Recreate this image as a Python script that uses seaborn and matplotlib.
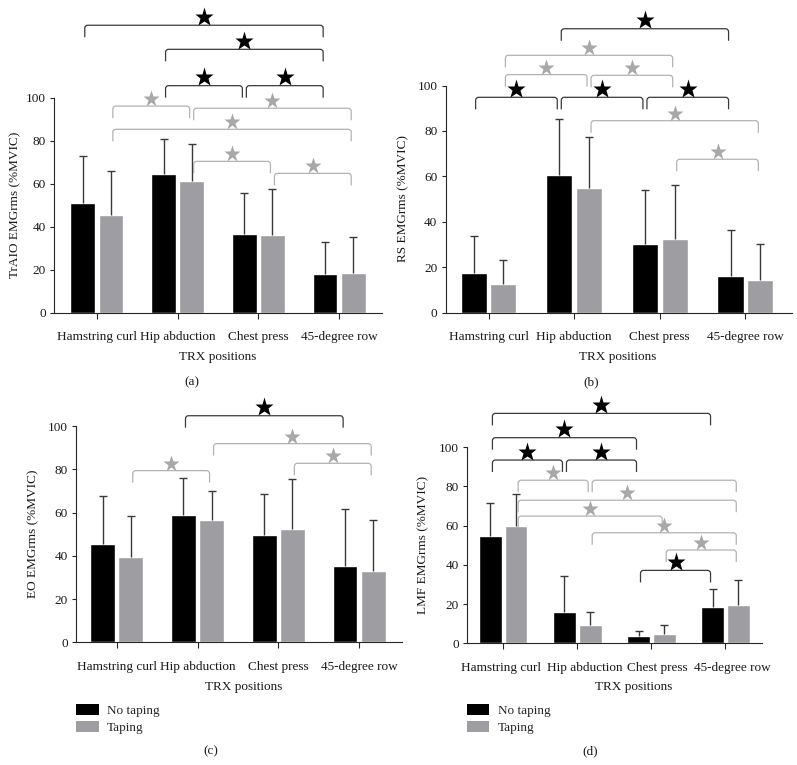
import numpy as np
import pandas as pd
import seaborn as sns
import matplotlib.pyplot as plt
import matplotlib.transforms as mtransforms
from matplotlib.path import Path
from matplotlib.patches import PathPatch, Patch

# ---- data -------------------------------------------------------------
positions = ["Hamstring curl", "Hip abduction", "Chest press", "45-degree row"]
conditions = ["No taping", "Taping"]

# (a) TrAIO
a_no_mean = [51.2, 64.7, 36.7, 17.8]
a_no_sd = [21.8, 16.1, 19.0, 15.1]
a_tap_mean = [45.3, 61.1, 36.0, 18.4]
a_tap_sd = [20.7, 17.5, 21.4, 16.8]

# (b) RS
b_no_mean = [17.6, 60.6, 30.0, 16.2]
b_no_sd = [15.9, 24.5, 23.8, 20.0]
b_tap_mean = [12.5, 55.0, 32.4, 14.1]
b_tap_sd = [10.7, 22.2, 23.9, 15.9]

# (c) EO
c_no_mean = [45.5, 58.7, 49.6, 35.3]
c_no_sd = [22.1, 17.4, 19.0, 26.5]
c_tap_mean = [39.6, 56.7, 52.5, 33.0]
c_tap_sd = [18.6, 13.4, 23.2, 23.5]

# (d) LMF
d_no_mean = [54.8, 15.8, 3.7, 18.7]
d_no_sd = [16.6, 18.4, 2.8, 8.9]
d_tap_mean = [60.0, 9.2, 4.6, 19.4]
d_tap_sd = [16.0, 6.6, 4.6, 12.7]

# significance brackets: (left position, right position, condition, height, star)
a_brackets = [(0, 3, 0, 133.7, True), (1, 3, 0, 122.5, True),
              (1, 2, 0, 105.6, True), (2, 3, 0, 105.6, True),
              (0, 1, 1, 96.1, True), (1, 3, 1, 95.1, True),
              (0, 3, 1, 85.3, True), (1, 2, 1, 70.4, True),
              (2, 3, 1, 64.8, True)]
b_brackets = [(1, 3, 0, 125.0, True), (0, 2, 1, 113.3, True),
              (0, 1, 1, 104.8, True), (1, 2, 1, 104.5, True),
              (0, 1, 0, 94.8, True), (1, 2, 0, 94.8, True),
              (2, 3, 0, 94.8, True), (1, 3, 1, 84.5, True),
              (2, 3, 1, 67.5, True)]
c_brackets = [(1, 3, 0, 104.8, True), (1, 3, 1, 91.9, True),
              (2, 3, 1, 82.8, True), (0, 1, 1, 79.4, True)]
d_brackets = [(0, 3, 0, 117.3, True), (0, 2, 0, 104.9, True),
              (0, 1, 0, 93.5, True), (1, 2, 0, 93.5, True),
              (0, 1, 1, 83.2, True), (1, 3, 1, 83.2, False),
              (0, 3, 1, 73.0, True), (0, 2, 1, 64.9, True),
              (1, 3, 1, 56.4, True), (2, 3, 1, 47.6, True),
              (2, 3, 0, 37.2, True)]

# ---- style ------------------------------------------------------------
BLACK = "#000000"
GRAY = "#9e9ea2"
AXIS = "#262626"
ERR = "#3a3a3a"
BR_DARK = "#3a3a3a"
BR_LIGHT = "#b3b3b3"
STAR_LIGHT = "#a8a8a8"
TXT = "#1a1a1a"
FS = 9.5

sns.set_theme(style="ticks")
plt.rcParams["font.family"] = ["Liberation Serif", "DejaVu Serif"]

W, H = 797, 765
fig = plt.figure(figsize=(W / 100, H / 100), dpi=100)

panels = [
    dict(means=(a_no_mean, a_tap_mean), sds=(a_no_sd, a_tap_sd), brackets=a_brackets,
         ylabel="TrAIO EMGrms (%MVIC)", cap="(a)",
         left=54, right=382, y0=312.7, ppu=2.15, top=1, xlim=(-0.53, 3.53),
         ylab_x=15, xlab=(218, 357), cap_xy=(191.5, 382.7)),
    dict(means=(b_no_mean, b_tap_mean), sds=(b_no_sd, b_tap_sd), brackets=b_brackets,
         ylabel="RS EMGrms (%MVIC)", cap="(b)",
         left=445.7, right=791.7, y0=312.5, ppu=2.27, top=1, xlim=(-0.50, 3.54),
         ylab_x=403, xlab=(618, 357), cap_xy=(591, 382.7)),
    dict(means=(c_no_mean, c_tap_mean), sds=(c_no_sd, c_tap_sd), brackets=c_brackets,
         ylabel="EO EMGrms (%MVIC)", cap="(c)",
         left=76.3, right=402, y0=642.3, ppu=2.162, top=395, xlim=(-0.50, 3.53),
         ylab_x=33, xlab=(244, 686.7), cap_xy=(211, 751.7), legend=True),
    dict(means=(d_no_mean, d_tap_mean), sds=(d_no_sd, d_tap_sd), brackets=d_brackets,
         ylabel="LMF EMGrms (%MVIC)", cap="(d)",
         left=467, right=761.7, y0=643.3, ppu=1.96, top=395, xlim=(-0.49, 3.49),
         ylab_x=423, xlab=(634, 686.7), cap_xy=(590, 751.3), legend=True,
         label_shift=(-2, 7, 6, 7)),
]


def bracket_path(x1, x2, y, leg, rx, ry):
    verts = [(x1, y - leg), (x1, y - ry), (x1, y), (x1 + rx, y),
             (x2 - rx, y), (x2, y), (x2, y - ry), (x2, y - leg)]
    codes = [Path.MOVETO, Path.LINETO, Path.CURVE3, Path.CURVE3,
             Path.LINETO, Path.CURVE3, Path.CURVE3, Path.LINETO]
    return Path(verts, codes)


for p in panels:
    ax = fig.add_axes([p["left"] / W, (H - p["y0"]) / H,
                       (p["right"] - p["left"]) / W, (p["y0"] - p["top"]) / H])
    ymax = (p["y0"] - p["top"]) / p["ppu"]
    ppx = (p["right"] - p["left"]) / (p["xlim"][1] - p["xlim"][0])  # px per category

    df = pd.DataFrame({
        "position": positions * 2,
        "condition": [conditions[0]] * 4 + [conditions[1]] * 4,
        "value": list(p["means"][0]) + list(p["means"][1]),
    })
    sns.barplot(data=df, x="position", y="value", hue="condition",
                order=positions, hue_order=conditions, palette=[BLACK, GRAY],
                width=0.695, gap=0.12, errorbar=None, saturation=1,
                legend=False, ax=ax)

    # one-sided (upper) SD bars
    centers = []
    for container, sd in zip(ax.containers, p["sds"]):
        xs = [r.get_x() + r.get_width() / 2 for r in container]
        hs = [r.get_height() for r in container]
        centers.append(xs)
        _, caps, _ = ax.errorbar(xs, hs, yerr=[np.zeros(len(sd)), sd], fmt="none",
                                 ecolor=ERR, elinewidth=1.0, capsize=3.2,
                                 capthick=1.0, zorder=3)
        caps[0].set_visible(False)

    # brackets
    leg = 12 / p["ppu"]
    shrink = 2 / ppx
    for li, ri, cond, y, star in p["brackets"]:
        x1 = centers[cond][li] + shrink
        x2 = centers[cond][ri] - shrink
        col = BR_DARK if cond == 0 else BR_LIGHT
        path = bracket_path(x1, x2, y, leg, 3 / ppx, 3 / p["ppu"])
        ax.add_patch(PathPatch(path, fill=False, edgecolor=col, lw=0.9,
                               clip_on=False, zorder=4))
        if star:
            off = 8.5 if cond == 0 else 7.0
            ax.plot((x1 + x2) / 2, y + off / p["ppu"], marker="*",
                    ms=14 if cond == 0 else 12.5,
                    color=BLACK if cond == 0 else STAR_LIGHT,
                    mec="none", clip_on=False, zorder=5)

    ax.set_xlim(*p["xlim"])
    ax.set_ylim(0, ymax)
    ax.set_yticks([0, 20, 40, 60, 80, 100])
    sns.despine(ax=ax)
    ax.spines["left"].set_bounds(0, 100)
    for s in ("left", "bottom"):
        ax.spines[s].set_color(AXIS)
        ax.spines[s].set_linewidth(0.8)
    ax.tick_params(axis="x", length=4, width=0.8, color=AXIS, pad=9.5,
                   labelsize=FS, labelcolor=TXT)
    ax.tick_params(axis="y", length=3, width=0.8, color=AXIS, pad=3,
                   labelsize=FS, labelcolor=TXT)

    if p.get("label_shift"):
        for lab, dx in zip(ax.get_xticklabels(), p["label_shift"]):
            lab.set_transform(lab.get_transform() +
                              mtransforms.ScaledTranslation(dx / 100, 0, fig.dpi_scale_trans))

    height_px = p["y0"] - p["top"]
    width_px = p["right"] - p["left"]
    ax.set_xlabel("TRX positions", fontsize=FS, color=TXT)
    ax.xaxis.label.set_va("center")
    ax.xaxis.set_label_coords((p["xlab"][0] - p["left"]) / width_px,
                              (p["y0"] - p["xlab"][1]) / height_px)
    ax.set_ylabel(p["ylabel"], fontsize=FS, color=TXT)
    ax.yaxis.label.set_va("center")
    ax.yaxis.set_label_coords((p["ylab_x"] - p["left"]) / width_px,
                              50 * p["ppu"] / height_px)

    if p.get("legend"):
        handles = [Patch(facecolor=BLACK, edgecolor="none"),
                   Patch(facecolor=GRAY, edgecolor="none")]
        ax.legend(handles, conditions, loc="upper left",
                  bbox_to_anchor=(p["left"] / W, 1 - 704 / H),
                  bbox_transform=fig.transFigure, frameon=False,
                  borderpad=0, borderaxespad=0, handlelength=1.7,
                  handleheight=0.85, handletextpad=0.65, labelspacing=0.35,
                  fontsize=FS)

    fig.text(p["cap_xy"][0] / W, 1 - p["cap_xy"][1] / H, p["cap"],
             ha="center", va="center", fontsize=FS, color=TXT)

fig.savefig("out.png", dpi=100)
